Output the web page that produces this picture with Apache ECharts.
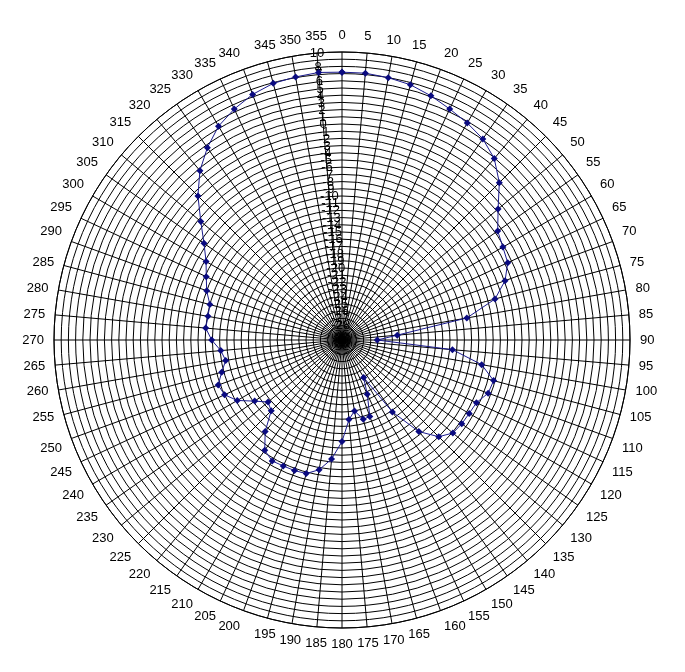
<!DOCTYPE html>
<html>
<head>
<meta charset="utf-8">
<script src="https://cdn.jsdelivr.net/npm/echarts@6/dist/echarts.min.js"></script>
<style>
  html, body { margin: 0; padding: 0; background: #fff; }
  #chart { width: 685px; height: 672px; }
</style>
</head>
<body>
<div id="chart"></div>
<script>
// angles in degrees, 0 at top, clockwise
var angles = [];
for (var a = 0; a < 360; a += 5) angles.push(a);

// measured level (dB) at each angle
var levels = [
   7.2,  7.2,  7.0,  6.7,  6.1,  5.4,  4.8,  4.1,  2.9,  0.9,
  -1.7, -3.6, -4.2, -4.6, -5.9, -8.0, -12.4, -22.3, -25.1, -14.6,
  -10.3, -8.2, -8.4, -9.4, -9.6, -9.7, -9.9, -11.0, -13.4, -17.8,
  -24.0, -21.7, -18.7, -18.6, -20.0, -18.9, -15.9, -13.4, -11.7, -10.8,
  -10.7, -10.7, -10.6, -11.3, -13.4, -16.1, -16.6, -15.2, -13.2, -12.0,
  -11.7, -12.7, -13.6, -13.1, -11.9, -11.0, -11.1, -11.0, -10.0, -9.2,
  -8.2, -6.6, -4.4, -1.7,  0.7,  2.6,  4.3,  5.4,  6.3,  6.9,
   7.1,  7.3
];

var rMin = -30, rMax = 10;

var points = [];
for (var i = 0; i < angles.length; i++) {
    points.push([levels[i], angles[i]]);
}
points.push([levels[0], 360]); // close the loop

var chart = echarts.init(document.getElementById('chart'));
var option = {
    backgroundColor: '#fff',
    animation: false,
    textStyle: { fontFamily: 'Liberation Sans, Arial, sans-serif' },
    polar: [
        { center: [342, 340], radius: 288 },
        { center: [342, 340], radius: 288 }
    ],
    angleAxis: [{
        polarIndex: 0,
        type: 'value',
        min: 0,
        max: 360,
        interval: 5,
        startAngle: 90,
        clockwise: true,
        axisLine: { lineStyle: { color: '#000', width: 1 } },
        axisTick: { show: false },
        axisLabel: {
            color: '#000',
            fontSize: 13,
            margin: 10,
            formatter: function (v) { return v === 360 ? '' : v; }
        },
        splitLine: { show: true, lineStyle: { color: '#000', width: 1 } }
    }, {
        //第二个极坐标只用来把刻度文字放在355度方向
        polarIndex: 1,
        type: 'value',
        min: 0,
        max: 360,
        startAngle: 95,
        show: false
    }],
    radiusAxis: [{
        polarIndex: 0,
        type: 'value',
        min: rMin,
        max: rMax,
        interval: 1,
        axisLine: { show: false },
        axisTick: { show: false },
        axisLabel: { show: false },
        splitLine: { show: true, lineStyle: { color: '#000', width: 1 } }
    }, {
        polarIndex: 1,
        type: 'value',
        min: rMin,
        max: rMax,
        interval: 1,
        axisLine: { show: false },
        axisTick: { show: false },
        splitLine: { show: false },
        axisLabel: {
            color: '#000',
            fontSize: 13,
            margin: 0,
            align: 'center',
            verticalAlign: 'middle',
            showMinLabel: true,
            showMaxLabel: true
        }
    }],
    series: [{
        type: 'line',
        coordinateSystem: 'polar',
        polarIndex: 0,
        data: points,
        symbol: 'diamond',
        symbolSize: 7,
        showAllSymbol: true,
        lineStyle: { color: '#1a1a8c', width: 1 },
        itemStyle: { color: '#0a0a80' },
        z: 5
    }]
};
chart.setOption(option);
</script>
</body>
</html>
